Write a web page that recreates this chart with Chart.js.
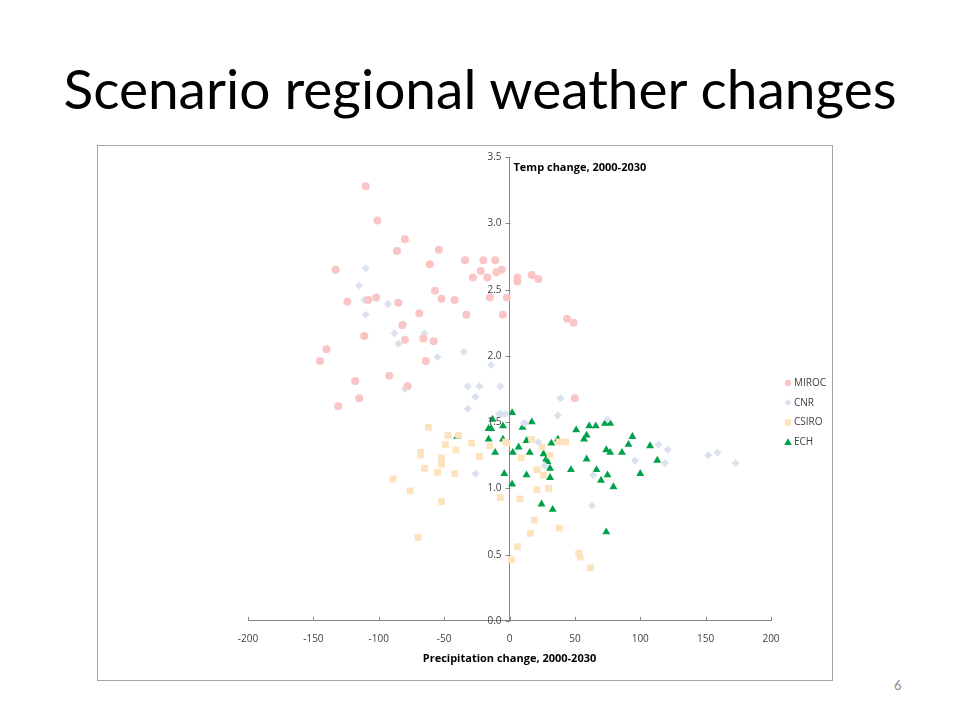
<!DOCTYPE html>
<html>
<head>
<meta charset="utf-8">
<script src="https://cdn.jsdelivr.net/npm/chart.js@4.4.1/dist/chart.umd.min.js"></script>
<style>
	body { margin: 0; width: 960px; height: 720px; background: #fff; position: relative; overflow: hidden; font-family: Lato, "Open Sans", sans-serif; }
	#title { position: absolute; left: 0; width: 960px; top: 53px; text-align: center; font-size: 55px; color: #000; line-height: 70px; }
	#box { position: absolute; left: 97px; top: 145px; width: 736px; height: 536px; border: 1px solid #a6a6a6; box-sizing: border-box; }
	#page { position: absolute; left: 894px; top: 677px; font-size: 13px; color: #8c8c8c; }
</style>
</head>
<body>
<div id="title">Scenario regional weather changes</div>
<div id="box"><canvas id="chart"></canvas></div>
<div id="page">6</div>
<script>
// precipitation change (x) and temperature change (y) per model run
const mirocX = [-110, -101, -86, -80, -54, -61, -133, -34, -20, -11, -22, -28, -17, -10, -6, -102, -108, -124, -85, -57, -52, -42, -15, -2, -69, -33, -5, -82, -111, -66, -58, -80, -140, -145, -64, -118, -92, -78, 6, 6, 17, 22, 44, 49, -115, -131, 50]
const mirocY = [3.28, 3.02, 2.79, 2.88, 2.80, 2.69, 2.65, 2.72, 2.72, 2.72, 2.64, 2.59, 2.59, 2.63, 2.65, 2.44, 2.42, 2.41, 2.40, 2.49, 2.43, 2.42, 2.44, 2.44, 2.32, 2.31, 2.31, 2.23, 2.15, 2.13, 2.11, 2.12, 2.05, 1.96, 1.96, 1.81, 1.85, 1.77, 2.59, 2.56, 2.61, 2.58, 2.28, 2.25, 1.68, 1.62, 1.68]

const cnrX = [-110, -115, -111, -110, -93, -81, -88, -85, -65, -55, -35, -14, -32, -23, -7, -80, -26, -32, -6, -26, 11, 39, 37, -8, -3, 75, 22, 114, 121, 96, 119, 152, 159, 173, 64, 63, 27, 12]
const cnrY = [2.66, 2.53, 2.42, 2.31, 2.39, 2.24, 2.17, 2.09, 2.17, 1.99, 2.03, 1.93, 1.77, 1.77, 1.77, 1.75, 1.69, 1.60, 1.56, 1.11, 1.49, 1.68, 1.55, 1.56, 1.56, 1.52, 1.35, 1.33, 1.29, 1.21, 1.19, 1.25, 1.27, 1.19, 1.10, 0.87, 1.17, 1.49]

const csiroX = [-62, -47, -39, -49, -29, -41, -68, -68, -23, -52, -52, -65, -55, -42, -89, -76, -52, -70, -15, -3, -7, 6, 1.5, 8, 9, 21, 21, 19, 16, 17, -2, 30, 38, 26, 31, 25, 43, 38, 53, 54, 62]
const csiroY = [1.46, 1.40, 1.40, 1.33, 1.34, 1.29, 1.27, 1.25, 1.24, 1.23, 1.18, 1.15, 1.12, 1.11, 1.07, 0.98, 0.90, 0.63, 1.32, 1.35, 0.93, 0.56, 0.46, 0.92, 1.23, 1.14, 0.99, 0.76, 0.66, 1.37, 1.34, 1.00, 0.70, 1.10, 1.25, 1.31, 1.35, 1.35, 0.51, 0.48, 0.40]

const echX = [-13, 2, -5, -16, -14, -40, -16, -5, 10, 17, -11, 2.5, 7, 13, 15.5, -4, 2, 13, 24.5, 33, 26, 28, 29, 31, 31, 32, 37, 47, 51, 57, 59, 61, 66, 59, 66.5, 70, 75, 79.5, 73, 77, 74, 77, 86, 91, 94, 100, 107.5, 113, 74]
const echY = [1.52, 1.57, 1.47, 1.45, 1.45, 1.39, 1.37, 1.37, 1.46, 1.50, 1.27, 1.27, 1.31, 1.36, 1.27, 1.11, 1.03, 1.10, 0.88, 0.84, 1.26, 1.22, 1.20, 1.15, 1.08, 1.34, 1.37, 1.14, 1.44, 1.37, 1.40, 1.47, 1.47, 1.22, 1.14, 1.06, 1.10, 1.01, 1.49, 1.49, 1.29, 1.27, 1.27, 1.33, 1.39, 1.11, 1.32, 1.21, 0.67]

const seriesNames = ['MIROC', 'CNR', 'CSIRO', 'ECH']
const xTitle = 'Precipitation change, 2000-2030'
const yTitle = 'Temp change, 2000-2030'

function pts(xs, ys) {
	return xs.map((x, i) => ({x: x, y: ys[i]}))
}

const axisColor = '#868686'
const textColor = '#404040'
const tickFont = '"Open Sans", sans-serif'

// Excel style extras: y labels and title beside the middle axis, x tick marks pointing up, legend on the right
const extras = {
	id: 'extras',
	afterDraw(chart) {
		const ctx = chart.ctx
		const xs = chart.scales.x
		const ys = chart.scales.y
		const ax = Math.round(xs.getPixelForValue(0)) + 0.5
		ctx.save()
		ctx.strokeStyle = axisColor
		ctx.lineWidth = 1
		xs.ticks.forEach(t => {
			const px = Math.round(xs.getPixelForValue(t.value)) + 0.5
			ctx.beginPath()
			ctx.moveTo(px, ys.bottom)
			ctx.lineTo(px, ys.bottom - 4)
			ctx.stroke()
		})
		ctx.font = '10px ' + tickFont
		ctx.fillStyle = textColor
		ctx.textAlign = 'right'
		ctx.textBaseline = 'middle'
		ys.ticks.forEach(t => {
			const py = Math.round(ys.getPixelForValue(t.value)) + 0.5
			ctx.beginPath()
			ctx.moveTo(ax, py)
			ctx.lineTo(ax - 5, py)
			ctx.stroke()
			ctx.fillText(t.value.toFixed(1), ax - 9, py)
		})
		ctx.textAlign = 'left'
		ctx.fillStyle = '#000'
		ctx.font = 'bold 11px ' + tickFont
		ctx.fillText(yTitle, ax + 3, ys.top + 11)

		ctx.font = '10px ' + tickFont
		chart.data.datasets.forEach((ds, i) => {
			const lx = 690
			const ly = 237 + i * 19.7
			ctx.fillStyle = ds.backgroundColor
			ctx.beginPath()
			if (ds.pointStyle === 'circle') {
				ctx.arc(lx, ly, 3.2, 0, Math.PI * 2)
			} else if (ds.pointStyle === 'rectRot') {
				ctx.moveTo(lx, ly - 3.5); ctx.lineTo(lx + 3.5, ly); ctx.lineTo(lx, ly + 3.5); ctx.lineTo(lx - 3.5, ly)
			} else if (ds.pointStyle === 'rect') {
				ctx.rect(lx - 3.2, ly - 3.2, 6.4, 6.4)
			} else {
				ctx.moveTo(lx, ly - 3.8); ctx.lineTo(lx + 3.8, ly + 3); ctx.lineTo(lx - 3.8, ly + 3)
			}
			ctx.closePath()
			ctx.fill()
			ctx.fillStyle = textColor
			ctx.fillText(ds.label, lx + 6, ly)
		})
		ctx.restore()
	}
}

new Chart('chart', {
	type: 'scatter',
	data: {
		datasets: [
			{label: seriesNames[0], data: pts(mirocX, mirocY), pointStyle: 'circle', pointRadius: 4, backgroundColor: '#f9c5c5', borderWidth: 0},
			{label: seriesNames[1], data: pts(cnrX, cnrY), pointStyle: 'rectRot', pointRadius: 4, backgroundColor: '#d9e2ee', borderWidth: 0},
			{label: seriesNames[2], data: pts(csiroX, csiroY), pointStyle: 'rect', pointRadius: 4.8, backgroundColor: '#fde3bd', borderWidth: 0},
			{label: seriesNames[3], data: pts(echX, echY), pointStyle: 'triangle', pointRadius: 4.6, backgroundColor: '#00a14b', borderWidth: 0},
		],
	},
	options: {
		responsive: true,
		maintainAspectRatio: false,
		animation: false,
		layout: {padding: {left: 150, right: 61, top: 11, bottom: 15}},
		plugins: {
			legend: {display: false},
			tooltip: {enabled: false},
		},
		scales: {
			x: {
				type: 'linear',
				min: -200,
				max: 200,
				position: 'bottom',
				border: {color: axisColor},
				grid: {display: false},
				ticks: {stepSize: 50, color: textColor, font: {size: 10, family: tickFont}, padding: 4},
				title: {display: true, text: xTitle, color: '#000', font: {size: 11, weight: 'bold', family: tickFont}, padding: {top: 3, bottom: 0}},
			},
			y: {
				type: 'linear',
				min: 0,
				max: 3.5,
				position: {x: 0},
				border: {color: axisColor},
				grid: {display: false},
				ticks: {stepSize: 0.5, display: false},
			},
		},
	},
	plugins: [extras],
})
</script>
</body>
</html>
